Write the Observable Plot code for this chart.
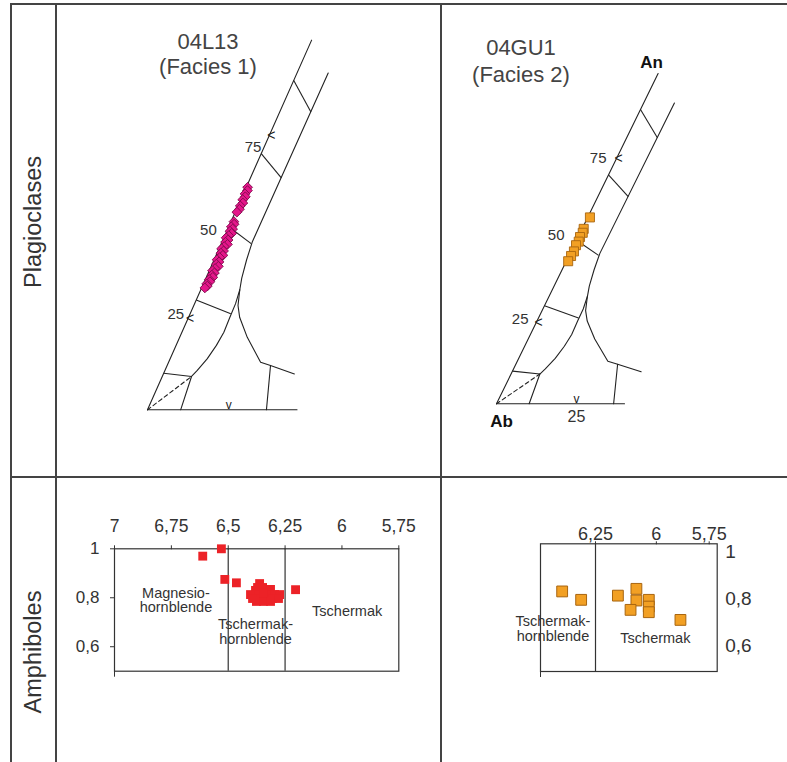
<!DOCTYPE html>
<html><head><meta charset="utf-8">
<script src="https://cdn.jsdelivr.net/npm/d3@7"></script>
<script src="https://cdn.jsdelivr.net/npm/@observablehq/plot@0.6"></script>
<style>
html,body{margin:0;padding:0;background:#fff;}
#page{position:relative;width:787px;height:762px;overflow:hidden;font-family:"Liberation Sans",Arial,sans-serif;}
.ln{position:absolute;background:#444;}
.rot{position:absolute;transform:translate(-50%,-50%) rotate(-90deg);white-space:nowrap;font-size:23.5px;color:#333;}
.ttl{position:absolute;transform:translate(-50%,-50%);white-space:nowrap;font-size:22px;color:#444;text-align:center;line-height:1;}
#page svg{position:absolute;left:0;top:0;overflow:visible;}
</style></head><body><div id="page"></div>
<script>
// ---------- DATA ----------
// Plagioclase compositions (An %, Or %) — sample 04L13 (Facies 1)
const plagL_an = [60.8,59.9,59.0,58.2,57.4,56.5,55.7,54.8,54.0,
  51.4,50.7,50.0,49.4,48.8,48.2,47.6,47.0,46.4,45.8,45.2,44.6,44.0,43.4,42.8,42.2,41.6,41.0,40.4,39.8,39.2,38.6,38.0,37.4,36.8,36.2,35.6,35.0,34.4,33.8,33.3];
const plagL_or = [0.4,0.8,0.5,1.0,0.6,1.1,0.7,0.9,0.5,
  0.9,1.3,0.8,1.5,1.0,1.8,1.2,0.7,1.6,1.1,2.0,1.3,0.8,1.7,1.2,2.1,1.4,0.9,1.8,1.3,2.2,1.5,1.0,1.9,1.4,2.0,1.2,1.7,1.0,1.5,1.0];
// Plagioclase compositions — sample 04GU1 (Facies 2)
const plagR_an = [57.0,53.5,52.3,51.0,49.6,48.5,46.6,45.2,43.6];
const plagR_or = [0.7,0.5,0.8,0.6,0.9,0.6,0.9,0.7,0.6];

// Feldspar ternary diagram geometry, points as [An %, Or %]
const fspPlagBoundary = [[92,9.6],[46,9.3],[41,10],[36,11],[32.8,12],[29,12.6],[25.3,12.7],[21.2,12.9],[17.6,12.4],[13.9,11.4],[10.7,9.9],[9.1,9.0],[0,10.2]];
const fspGapBoundary = [[32.8,12],[28.5,13.6],[25.3,15.7],[19.8,20.8],[13,28.3],[12.1,31.8],[9.8,40.3]];
const fspSanLine = [[12.1,31.8],[0,36.6]];
const fspDashed = [[0,0],[9.1,9.0]];
const tieAn = [10,30,50,70,90];
const tieEndOr = [9.0,12.5,9.2,9.5,9.6];
const anTicks = [25,50,75];

// Amphibole compositions (Si apfu, Mg/(Mg+Fe2+)) — 04L13
const amphL_si = [6.612,6.530,6.515,6.464,6.204,
  6.362,6.349,6.371,6.380,6.336,6.314,6.402,6.367,6.323,6.296,6.274,6.393,6.358,6.332,6.305,6.279,6.376,6.345,6.314,6.345];
const amphL_mg = [0.970,1.000,0.875,0.861,0.833,
  0.858,0.842,0.842,0.830,0.830,0.834,0.813,0.813,0.813,0.813,0.813,0.797,0.797,0.797,0.797,0.797,0.785,0.785,0.785,0.821];
// Amphibole compositions — 04GU1
const amphR_si = [6.387,6.309,6.158,6.082,6.082,6.106,6.031,6.031,6.031,5.901];
const amphR_mg = [0.832,0.796,0.814,0.843,0.793,0.753,0.796,0.767,0.743,0.710];

const amphTicksL = [7,6.75,6.5,6.25,6,5.75];
const amphTicksR = [6.25,6];
const amphTicksR_end = [5.75];
const mgTicks = [0.6,0.8,1];
const amphBoundaries = [6.5,6.25];

// ---------- LAYOUT ----------
const FONT = '"Liberation Sans", Arial, sans-serif';
const page = document.getElementById("page");
function div(cls, css, txt) {
  const d = document.createElement("div"); d.className = cls;
  Object.assign(d.style, css); if (txt) d.innerHTML = txt; page.appendChild(d); return d;
}
// table lines
div("ln", {left:"10px", top:"3px", width:"2px", height:"759px"});
div("ln", {left:"55px", top:"3px", width:"2px", height:"759px"});
div("ln", {left:"440px", top:"3px", width:"2px", height:"759px"});
div("ln", {left:"10px", top:"3px", width:"777px", height:"2px"});
div("ln", {left:"10px", top:"476px", width:"777px", height:"2px"});
div("rot", {left:"33px", top:"222px"}, "Plagioclases");
div("rot", {left:"33px", top:"652px"}, "Amphiboles");
div("ttl", {left:"208px", top:"42px"}, "04L13");
div("ttl", {left:"208px", top:"67px"}, "(Facies 1)");
div("ttl", {left:"521px", top:"48px"}, "04GU1");
div("ttl", {left:"521px", top:"75px"}, "(Facies 2)");

const fmt = d => String(d).replace(".", ",");
const baseStyle = {background:"transparent", fontFamily: FONT, overflow:"visible"};

function ternary(cfg) {
  const X = d => d[1] + 0.5 * d[0], Y = d => d[0];
  const ln = (data, o = {}) => Plot.line(data, {x: X, y: Y, stroke: "#222", strokeWidth: 1.1, ...o});
  const ties = tieAn.map((a, i) => ({a, o: tieEndOr[i]}));
  const pts = cfg.an.map((a, i) => [a, cfg.or[i]]);
  const marks = [
    ln([[0,0],[101,0]]),
    ln([[0,0],[0,cfg.bottomOr]]),
    ln(fspPlagBoundary),
    ln(fspGapBoundary),
    ln(fspSanLine),
    ln(fspDashed, {strokeDasharray: "4,3"}),
    Plot.link(ties, {x1: d => 0.5 * d.a, y1: d => d.a,
      x2: d => d.o + 0.5 * d.a * (1 - d.o / 100), y2: d => d.a * (1 - d.o / 100),
      stroke: "#222", strokeWidth: 1.1}),
    Plot.text([25, 75], {x: a => 0.5 * a, y: a => a, text: () => "<", fontSize: 14, fill: "#222", dx: 2}),
    Plot.text([25], {x: o => o, y: 0, text: () => "v", fontSize: 12, fill: "#222", dy: -5}),
    ...anTicks.map((t, i) => Plot.text([t], {x: a => 0.5 * a, y: a => a, text: d => String(d),
      textAnchor: "end", fontSize: 15, fill: "#333", dx: cfg.lab[i][0], dy: cfg.lab[i][1]})),
    Plot.dot(pts, {x: X, y: Y, symbol: cfg.symbol, r: cfg.r, fill: cfg.fill, stroke: cfg.stroke, strokeWidth: 0.9})
  ];
  if (cfg.corners) {
    marks.push(Plot.text([25], {x: o => o, y: 0, text: d => String(d), fontSize: 16, fill: "#333", dy: 13}));
    marks.push(Plot.text([[0,0]], {x: X, y: Y, text: () => "Ab", fontSize: 17, fontWeight: "bold", fill: "#111", dx: 5, dy: 18}));
    marks.push(Plot.text([[100,0]], {x: X, y: Y, text: () => "An", fontSize: 17, fontWeight: "bold", fill: "#111", dx: -5, dy: -14}));
  }
  return Plot.plot({
    width: 787, height: 762, margin: 0, style: baseStyle,
    x: {domain: [0, 100], range: [cfg.x0, cfg.x0 + 100 * cfg.kx], axis: null},
    y: {domain: [0, 100], range: [cfg.y0, cfg.y0 - 100 * cfg.ky], axis: null},
    marks
  });
}

page.appendChild(ternary({x0: 147, y0: 409.3, kx: 3.25, ky: 3.66, bottomOr: 46,
  an: plagL_an, or: plagL_or, symbol: "diamond2", r: 4.4, fill: "#E4168A", stroke: "#7E0A4B",
  lab: [[-4, -4], [-12, 3], [-8, 12]], corners: false}));
page.appendChild(ternary({x0: 496, y0: 403.3, kx: 3.2, ky: 3.27, bottomOr: 40,
  an: plagR_an, or: plagR_or, symbol: "square", r: 5.1, fill: "#F2A024", stroke: "#A86510",
  lab: [[-8, -3], [-12, -5], [-10, 0]], corners: true}));

function amph(cfg) {
  const pts = cfg.si.map((s, i) => [s, cfg.mg[i]]);
  const xAxes = cfg.xtickGroups.map(g => Plot.axisX({anchor: "top", ticks: g.ticks, tickFormat: fmt, tickSize: cfg.xTickSize,
    tickPadding: cfg.xpad, fontSize: cfg.xfont, fill: "#333", stroke: "#333", label: null, dx: g.dx}));
  return Plot.plot({
    width: 787, height: 762, style: baseStyle,
    marginLeft: cfg.box[0], marginRight: 787 - cfg.box[1], marginTop: cfg.box[2], marginBottom: 762 - cfg.box[3],
    x: {domain: cfg.xdom}, y: {domain: cfg.ydom},
    marks: [
      Plot.frame({stroke: "#333", strokeWidth: 1.2}),
      Plot.ruleX(cfg.rules, {stroke: "#333", strokeWidth: 1.2}),
      ...xAxes,
      Plot.axisX({anchor: "bottom", ticks: [cfg.xdom[0]], tickFormat: () => "", tickSize: 6, stroke: "#333", label: null}),
      Plot.axisY({anchor: cfg.yside, ticks: mgTicks, tickFormat: fmt, tickSize: cfg.yTickSize, tickPadding: cfg.ypad, fontSize: cfg.yfont, fill: "#333", stroke: "#333", label: null}),
      Plot.text(cfg.labels, {x: d => d[1], y: d => d[2], text: d => d[0], fontSize: 14.5, lineHeight: 1.0, fill: "#333"}),
      Plot.dot(pts, {x: d => d[0], y: d => d[1], symbol: "square", r: cfg.r, fill: cfg.fill, stroke: cfg.stroke, strokeWidth: cfg.sw})
    ]
  });
}

page.appendChild(amph({box: [114, 398.3, 548.3, 670.7], xdom: [7, 5.75], ydom: [0.5, 1],
  xtickGroups: [{ticks: amphTicksL, dx: 0}], xTickSize: 4, xpad: 13, xfont: 17.5, rules: amphBoundaries,
  yside: "left", yTickSize: 4, ypad: 11, yfont: 17,
  si: amphL_si, mg: amphL_mg, r: 5.0, fill: "#EC2227", stroke: "none", sw: 0,
  labels: [["Magnesio-\nhornblende", 6.73, 0.79], ["Tschermak-\nhornblende", 6.38, 0.66], ["Tschermak", 5.977, 0.744]]}));
page.appendChild(amph({box: [540, 716.7, 543.3, 671], xdom: [6.476, 5.75], ydom: [0.489, 1.036],
  xtickGroups: [{ticks: amphTicksR, dx: 0}, {ticks: amphTicksR_end, dx: -8}], xTickSize: 3, xpad: 1, xfont: 18, rules: [6.25],
  yside: "right", yTickSize: 0, ypad: 8, yfont: 19,
  si: amphR_si, mg: amphR_mg, r: 6.1, fill: "#F2A024", stroke: "#A86510", sw: 1,
  labels: [["Tschermak-\nhornblende", 6.425, 0.672], ["Tschermak", 6.004, 0.629]]}));
</script>
</body></html>
